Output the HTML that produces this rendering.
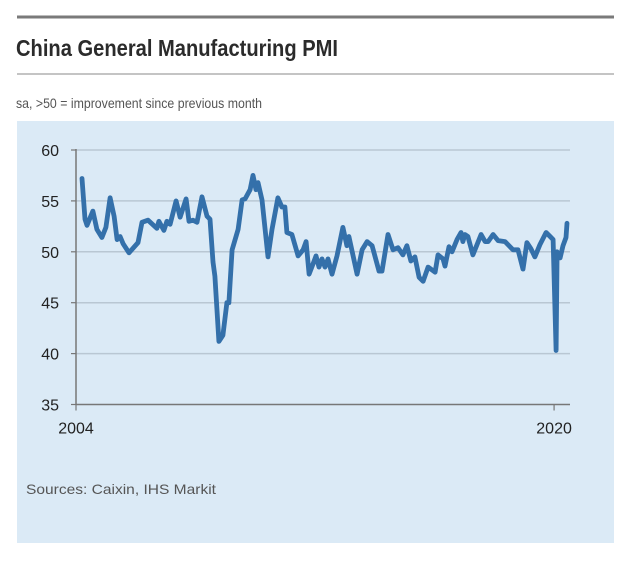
<!DOCTYPE html>
<html><head><meta charset="utf-8"><style>
html,body{margin:0;padding:0;background:#fff;}
svg{display:block;font-family:"Liberation Sans",sans-serif;}
</style></head><body>
<svg id="chart" width="631" height="564" viewBox="0 0 631 564">
<rect x="17" y="15.5" width="597" height="3" fill="#7a7a7a"/>
<text x="16" y="56" font-size="23" font-weight="bold" fill="#2b2b2b" textLength="322" lengthAdjust="spacingAndGlyphs">China General Manufacturing PMI</text>
<rect x="17" y="73.5" width="597" height="1" fill="#888"/>
<text x="16" y="108" font-size="14" fill="#555" textLength="246" lengthAdjust="spacingAndGlyphs">sa, &gt;50 = improvement since previous month</text>
<rect x="17" y="121" width="597" height="422" fill="#dbeaf6"/>
<g id="grid"></g>
<g id="axes"></g>
<path id="line" fill="none" stroke="#3470aa" stroke-width="4.8" stroke-linejoin="round" stroke-linecap="round"/>
<text x="26" y="494" font-size="14" fill="#555" textLength="190" lengthAdjust="spacingAndGlyphs">Sources: Caixin, IHS Markit</text>
</svg>
<script>
// months since Jan 2004
const months = [2.4,3.6,4.4,6.8,8.4,10.4,12,13.7,15.3,16.5,17.7,18.9,21.3,24.9,26.5,28.9,32.5,33.3,35.3,36.5,37.8,40.2,41.8,44.2,45.4,47,48.6,50.6,52.6,53.8,55,55.8,57.4,59,60.6,61.4,62.7,65.1,66.7,67.9,69.9,71.1,72.3,73.1,74.7,77.1,78.7,81.1,82.7,83.9,84.7,86.7,89.2,91.2,92.4,93.6,95.2,96.4,97.6,98.8,100,101.2,102.8,104.8,107.2,108.8,109.6,112.9,114.9,116.9,118.9,121.7,122.9,125.3,127.3,129.3,131.3,132.9,134.5,136.1,137.8,139.4,141.4,144.2,145.4,147.4,148.2,149.8,151,153,154.6,155.4,156.2,157.4,159.4,162.7,164.3,165.5,167.5,169.5,172.3,175.5,177.5,179.5,181.1,182.7,184.3,186.3,188.8,190.4,191.6,192.8,193.2,194.4,195.6,196.8,197.2];
const values = [57.2,53.2,52.6,54.0,52.2,51.4,52.4,55.3,53.5,51.2,51.5,50.8,49.9,50.9,52.9,53.1,52.3,53.0,52.1,53.0,52.7,55.0,53.4,55.2,53.0,53.1,52.9,55.4,53.5,53.2,49.0,47.6,41.2,41.8,45.0,45.0,50.2,52.2,55.1,55.2,56.1,57.5,56.1,56.8,55.1,49.5,52.2,55.3,54.4,54.4,51.9,51.7,49.6,50.2,51.0,47.8,48.8,49.6,48.5,49.3,48.5,49.3,47.8,49.6,52.4,50.6,51.5,47.8,50.2,51.0,50.6,48.1,48.1,51.7,50.2,50.4,49.7,50.6,49.1,49.5,47.5,47.1,48.5,48.0,49.7,49.3,48.6,50.5,50.0,51.2,51.9,51.0,51.7,51.5,49.7,51.7,51.0,51.0,51.7,51.1,51.0,50.2,50.2,48.3,50.9,50.3,49.5,50.7,51.9,51.5,51.2,40.3,50.0,49.4,50.6,51.4,52.8];
const yTicks = [60,55,50,45,40,35];
const xTickMonths = [0,192];
const xTickLabels = ["2004","2020"];
const NS="http://www.w3.org/2000/svg";
const x0=76, pxPerMonth=2.49, yTop=150, yBot=404.5, vMax=60, vMin=35, xEnd=570;
const xs = m => x0 + m*pxPerMonth;
const ys = v => yTop + (vMax-v)/(vMax-vMin)*(yBot-yTop);
function mk(tag, attrs){const e=document.createElementNS(NS,tag);for(const k in attrs)e.setAttribute(k,attrs[k]);return e;}
const grid=document.getElementById('grid'), axes=document.getElementById('axes');
yTicks.forEach(t=>{
  const y=ys(t);
  if(t!==vMin){
    const g=mk('line',{x1:x0,x2:xEnd,y1:y,y2:y,stroke:'#b9c7d3','stroke-width':1.5});
    
    
    grid.appendChild(g);
  }
  const tk=mk('line',{x1:x0-5,x2:x0,y1:y,y2:y,stroke:'#777','stroke-width':1.2});
  
  
  axes.appendChild(tk);
  const tx=mk('text',{x:x0-17,y:y+6,'text-anchor':'end','font-size':16,fill:'#222'});
  tx.textContent=t;
  
  
  axes.appendChild(tx);
});
const ya=mk('line',{x1:x0,x2:x0,y1:yTop-1,y2:yBot,stroke:'#777','stroke-width':1.5});


axes.appendChild(ya);
const xa=mk('line',{x1:x0,x2:xEnd,y1:yBot,y2:yBot,stroke:'#777','stroke-width':1.5});


axes.appendChild(xa);
xTickMonths.forEach((m,i)=>{
  const x=xs(m);
  const tk=mk('line',{x1:x,x2:x,y1:yBot,y2:yBot+6,stroke:'#777','stroke-width':1.2});
  
  
  axes.appendChild(tk);
  const tx=mk('text',{x:x,y:yBot+29,'text-anchor':'middle','font-size':16,fill:'#222'});
  tx.textContent=xTickLabels[i];
  
  
  axes.appendChild(tx);
});
document.getElementById('line').setAttribute('d', months.map((m,i)=>(i?'L':'M')+xs(m).toFixed(1)+','+ys(values[i]).toFixed(1)).join(''));
</script>
</body></html>
